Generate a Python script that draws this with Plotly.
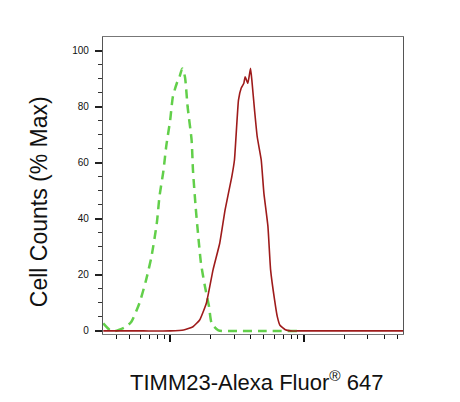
import plotly.graph_objects as go
import numpy as np

# isotype control (green dashed) -- log10 intensity vs % max
ctrl_log = [2.50, 2.55, 2.59, 2.67, 2.71, 2.77, 2.82, 2.86, 2.90, 2.92, 2.95,
            2.97, 3.00, 3.02, 3.05, 3.07, 3.09, 3.11, 3.13, 3.16, 3.17, 3.19,
            3.21, 3.23, 3.26, 3.29, 3.31, 3.36, 3.50, 3.70, 3.95]
ctrl_pct = [2.7, 0.3, 0, 1.5, 3.3, 9.9, 18.2, 26.5, 38.5, 48, 57.4,
            65.8, 75.3, 83.6, 88.5, 90.7, 93.7, 90.7, 80, 68, 57.4, 44.3,
            33.6, 24.1, 15.8, 8.7, 2.7, 0.2, 0, 0, 0]

# TIMM23 stained (dark red)
timm_log = [2.50, 2.80, 3.00, 3.10, 3.17, 3.22, 3.27, 3.32, 3.37, 3.41, 3.46,
            3.48, 3.51, 3.53, 3.55, 3.56, 3.58, 3.60, 3.61, 3.63, 3.65, 3.68,
            3.70, 3.73, 3.75, 3.78, 3.80, 3.82, 3.86, 3.90, 3.95, 4.00, 4.30, 4.74]
timm_pct = [0, 0, 0, 0.3, 1.5, 3.9, 9.9, 21.8, 31.3, 43.2, 55,
            61, 82.4, 86.6, 88.4, 90.7, 88.4, 93.7, 89.5, 78.8, 69.3, 61,
            49.1, 37.3, 21.8, 11, 5.1, 2, 0.4, 0, 0, 0, 0, 0]

major_x = [1e3, 1e4]
minor_x = [m * 10 ** d for d in (2, 3, 4) for m in range(2, 10)]

fig = go.Figure()
fig.add_trace(go.Scatter(x=10 ** np.array(ctrl_log), y=ctrl_pct, mode="lines",
                         line=dict(color="#62cf4a", width=2.5, dash="9px,6px",
                                   shape="spline", smoothing=0.6)))
fig.add_trace(go.Scatter(x=10 ** np.array(timm_log), y=timm_pct, mode="lines",
                         line=dict(color="#9e1b1b", width=1.6,
                                   shape="spline", smoothing=0.4)))

# page body has an 8px margin, so the plot box is pulled up/left by 8px
fig.update_layout(
    width=460, height=402,
    margin=dict(l=95, r=65, t=29, b=76),
    paper_bgcolor="white", plot_bgcolor="white",
    showlegend=False,
    font=dict(family="Arial, Liberation Sans, sans-serif", color="#111"),
    xaxis=dict(type="log", range=[2.498, 4.739], showgrid=False, zeroline=False,
               showline=True, linecolor="#777", linewidth=1.2, mirror=True,
               tickvals=major_x, ticks="outside", ticklen=7, tickwidth=2,
               tickcolor="#111", showticklabels=False,
               minor=dict(tickvals=minor_x, ticks="outside", ticklen=4,
                          tickwidth=1.2, tickcolor="#111", showgrid=False)),
    yaxis=dict(range=[-1.1, 104.9], showgrid=False, zeroline=False,
               showline=True, linecolor="#555", linewidth=1.2, mirror=True,
               tickvals=[0, 20, 40, 60, 80, 100], ticks="outside", ticklen=7,
               tickwidth=2, tickcolor="#222", ticklabelstandoff=4,
               tickfont=dict(size=10, color="#111"),
               minor=dict(dtick=5, tick0=0, ticks="outside", ticklen=4,
                          tickwidth=1, tickcolor="#333", showgrid=False)),
    annotations=[
        dict(text="TIMM23-Alexa Fluor<sup>®</sup> 647", x=0.51, y=-0.158,
             xref="paper", yref="paper", showarrow=False,
             xanchor="center", yanchor="middle",
             font=dict(size=22, color="#111")),
        dict(text="Cell Counts (% Max)", x=-0.213, y=0.444,
             xref="paper", yref="paper", showarrow=False, textangle=-90,
             xanchor="center", yanchor="middle",
             font=dict(size=23, color="#111")),
    ],
)

fig.write_html("out.html")
